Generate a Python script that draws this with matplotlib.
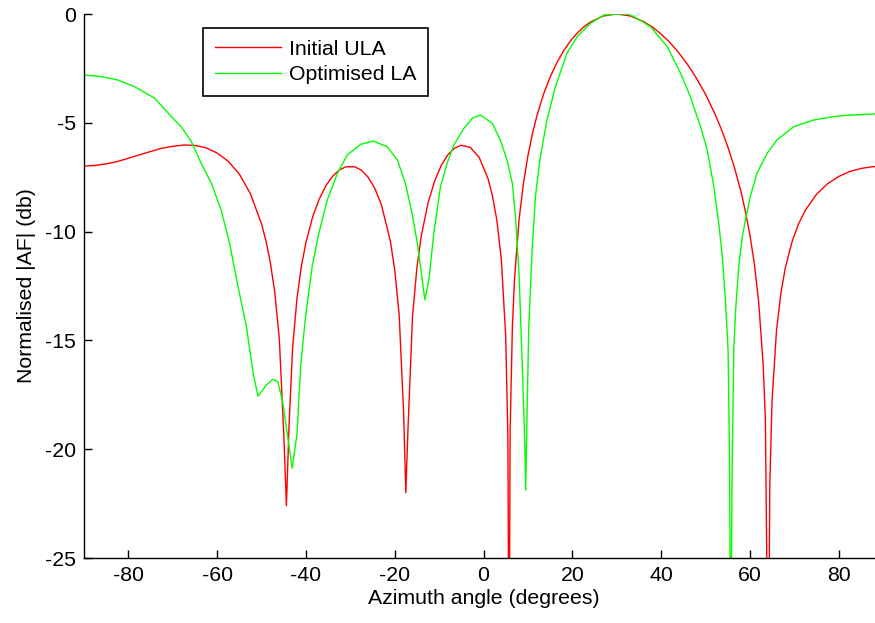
import matplotlib
matplotlib.use('Agg')
import matplotlib.pyplot as plt

plt.rcParams['font.family'] = ['Liberation Sans', 'DejaVu Sans']
plt.rcParams['axes.unicode_minus'] = False

# ── Data ──────────────────────────────────────────────────────────────────────
ula_angle = [-90, -87.5, -85, -82.5, -80, -77.5, -75, -72.5, -70, -67.5, -65, -62.5,
             -60, -57.5, -55, -52.5, -50, -49, -48, -47, -46, -45, -44.4, -43.8, -43,
             -42, -41, -40, -38.5, -37, -35.5, -34, -32.5, -31, -29, -27.5, -26, -24.5,
             -23, -21, -20, -19, -18, -17.5, -17, -16, -15, -14, -12.5, -11, -9.5, -8,
             -6.5, -5, -3, -1, 1, 2, 3, 4, 5, 5.5, 5.74, 6, 6.5, 7, 8, 9, 10, 11, 12,
             13.5, 15, 16.5, 18, 19.5, 21, 22.5, 24, 27, 30, 33, 36, 38, 40, 42, 44,
             46, 48, 50, 52, 53.5, 55, 56.5, 58, 59, 60, 61, 62, 63, 63.5, 64.16, 64.5,
             65, 66, 67, 68, 69.5, 71, 72.5, 75, 77.5, 80, 82.5, 85, 87.5, 90]
ula_db = [-6.99, -6.96, -6.89, -6.78, -6.63, -6.47, -6.32, -6.17, -6.08, -6.02, -6.04,
          -6.15, -6.39, -6.77, -7.36, -8.26, -9.65, -10.43, -11.45, -12.82, -14.93,
          -19.28, -22.6, -18.87, -15.32, -13.03, -11.56, -10.50, -9.33, -8.50, -7.89,
          -7.46, -7.17, -7.02, -7.02, -7.18, -7.50, -8.01, -8.77, -10.42, -11.75,
          -13.82, -18.30, -22.0, -19.0, -13.92, -11.65, -10.18, -8.69, -7.67, -6.95,
          -6.46, -6.16, -6.03, -6.13, -6.58, -7.55, -8.34, -9.47, -11.24, -14.78, -19.5,
          -32, -19.16, -14.4, -12.14, -9.47, -7.78, -6.52, -5.52, -4.70, -3.70, -2.90,
          -2.25, -1.71, -1.26, -0.90, -0.61, -0.38, -0.09, 0.0, -0.085, -0.34, -0.59,
          -0.92, -1.31, -1.78, -2.33, -2.96, -3.68, -4.53, -5.25, -6.08, -7.03, -8.16,
          -9.07, -10.13, -11.46, -13.25, -16.11, -18.6, -32, -21.6, -17.8, -14.56,
          -12.83, -11.66, -10.47, -9.64, -9.02, -8.29, -7.80, -7.47, -7.24, -7.10,
          -7.02, -6.99]

opt_angle = [-90, -86, -82.4, -78.6, -74.1, -70.3, -68.1, -65.8, -63.6, -61.3, -59.1,
             -57.2, -55.3, -53.4, -51.9, -50.8, -49.8, -48.9, -47.5, -46.3, -45.2, -44.1,
             -43.1, -42.0, -41.2, -40.1, -38.6, -37.1, -35.2, -32.9, -30.7, -27.7, -24.8,
             -21.7, -19.4, -17.6, -16.1, -14.9, -14.0, -13.2, -12.3, -11.2, -9.7, -8.2,
             -6.7, -4.4, -2.5, -0.7, 1.95, 3.8, 5.3, 6.5, 7.2, 8.0, 8.7, 9.3, 9.5, 9.8,
             10.2, 10.6, 11.0, 11.7, 12.8, 14.3, 16.2, 18.8, 21.1, 24.1, 27.1, 30, 32.4,
             33.9, 37.6, 41.4, 44.4, 46.6, 48.9, 50.4, 51.9, 53.0, 53.8, 54.5, 55.1, 55.4,
             55.7, 56.0, 56.4, 56.8, 57.5, 58.3, 59.0, 60.1, 61.6, 63.9, 66.1, 69.9, 74.4,
             79.7, 85, 90]
opt_db = [-2.80, -2.88, -3.03, -3.34, -3.87, -4.72, -5.18, -5.87, -6.86, -7.78, -9.01,
          -10.54, -12.53, -14.37, -16.51, -17.56, -17.3, -17.05, -16.79, -16.90, -17.89,
          -19.43, -20.88, -19.27, -16.21, -13.91, -11.61, -10.08, -8.55, -7.32, -6.48,
          -5.99, -5.84, -6.10, -6.71, -7.78, -9.16, -10.54, -11.92, -13.14, -12.22,
          -10.08, -7.94, -6.86, -6.02, -5.25, -4.79, -4.64, -5.02, -5.79, -6.71, -7.78,
          -9.31, -11.92, -15.9, -19.73, -21.88, -18.5, -14.37, -12.53, -10.69, -8.39,
          -6.56, -4.87, -3.34, -1.81, -1.04, -0.43, -0.05, 0.0, 0.0, -0.12, -0.58, -1.50,
          -2.73, -3.80, -5.18, -6.25, -7.94, -9.62, -11.15, -13.14, -15.44, -20.04, -30,
          -20.96, -15.29, -13.6, -11.61, -10.23, -9.47, -8.39, -7.32, -6.40, -5.79,
          -5.18, -4.87, -4.69, -4.62, -4.58]

x_ticks = [-80, -60, -40, -20, 0, 20, 40, 60, 80]
y_ticks = [-25, -20, -15, -10, -5, 0]

# ── Plot ──────────────────────────────────────────────────────────────────────
fs = 15.3
fig = plt.figure(figsize=(8.75, 6.23), dpi=100)
ax = fig.add_axes([84 / 875, 65 / 623, 799 / 875, 544 / 623])

ax.plot(ula_angle, ula_db, color='#ff0000', linewidth=1.0, label='Initial ULA')
ax.plot(opt_angle, opt_db, color='#00ff00', linewidth=1.0, label='Optimised LA')

ax.set_xlim(-90, 90)
ax.set_ylim(-25, 0)
ax.set_xticks(x_ticks)
ax.set_yticks(y_ticks)
ax.tick_params(direction='in', length=6, width=1, labelsize=fs, pad=6)
ax.spines['top'].set_visible(False)
ax.spines['right'].set_visible(False)
for s in ['left', 'bottom']:
    ax.spines[s].set_linewidth(1.0)

ax.set_xlabel('Azimuth angle (degrees)', fontsize=fs, labelpad=3)
ax.set_ylabel('Normalised |AF| (db)', fontsize=fs, labelpad=6)

leg = ax.legend(loc='upper left', bbox_to_anchor=(0.149, 0.974), borderaxespad=0,
                fontsize=fs, fancybox=False, framealpha=1, edgecolor='black',
                handlelength=3.1, handletextpad=0.4, borderpad=0.55, labelspacing=0.3)
leg.get_frame().set_linewidth(1.2)

fig.savefig('out.png', dpi=100)
